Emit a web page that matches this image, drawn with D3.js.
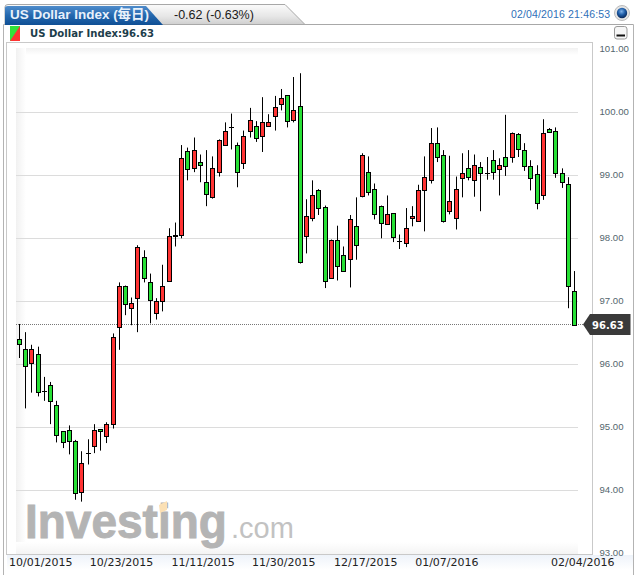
<!DOCTYPE html>
<html><head><meta charset="utf-8">
<script src="https://cdn.jsdelivr.net/npm/d3@7"></script>
<style>html,body{margin:0;padding:0;background:#fff}svg{display:block}</style>
</head><body><svg id="c" width="641" height="575"></svg>
<script>
const title = "US Dollar Index (每日)";
const changeText = "-0.62 (-0.63%)";
const stamp = "02/04/2016 21:46:53";
const legendText = "US Dollar Index:96.63";
const lastPrice = 96.63;
const yTicks = [93,94,95,96,97,98,99,100,101];
const xTickIndex = [0,16,29,42,55,68,89];
const xTickLabels = ["10/01/2015","10/23/2015","11/11/2015","11/30/2015","12/17/2015","01/07/2016","02/04/2016"];
const opens = [96.40,96.25,96.02,96.17,95.57,95.67,95.35,94.94,94.95,94.78,
93.97,94.59,94.71,94.97,94.86,95.05,96.59,97.24,96.89,97.05,
97.70,97.30,96.81,97.00,97.33,98.03,98.06,99.38,99.11,99.21,
98.90,98.65,99.06,99.48,99.76,99.48,99.19,99.70,99.79,99.62,
99.79,99.94,100.13,100.27,99.87,100.10,98.03,98.33,98.76,98.49,
97.37,97.98,97.73,97.67,98.19,98.67,99.06,98.79,98.51,98.22,
98.40,97.96,97.92,98.32,98.27,98.76,98.92,99.52,99.33,98.43,
98.33,98.95,99.11,98.92,99.13,99.03,99.25,99.10,99.29,99.29,
99.65,99.40,99.14,99.02,98.68,99.73,99.71,99.03,98.86,97.17];
const closes = [96.33,95.97,96.24,95.56,95.57,95.41,94.87,94.76,94.78,93.95,
94.43,94.59,94.95,94.94,95.06,96.44,97.24,96.95,96.98,97.86,
97.37,97.02,97.00,97.24,98.03,98.06,99.27,99.10,99.40,99.17,
98.71,99.11,99.56,99.71,99.76,99.06,99.63,99.87,99.60,99.84,
99.84,100.08,100.22,99.86,100.03,97.63,98.35,98.68,98.48,97.33,
97.97,97.56,97.48,98.30,97.89,99.33,98.73,98.38,98.24,98.38,
98.02,97.96,98.17,98.35,98.76,98.98,99.51,99.29,98.27,98.60,
98.79,99.03,98.98,99.17,99.03,99.03,99.05,99.17,99.14,99.67,
99.41,99.14,98.95,98.56,99.67,99.68,99.03,98.89,97.25,96.63];
const highs = [96.64,96.51,96.31,96.28,95.80,95.72,95.42,94.94,95.03,94.80,
94.62,94.81,95.05,94.97,95.08,96.49,97.30,97.25,97.06,97.89,
97.81,97.44,97.05,97.58,98.16,98.25,99.48,99.44,99.60,99.33,
99.40,99.30,99.57,99.84,99.98,99.52,99.71,100.07,99.86,100.24,
99.97,100.26,100.37,100.27,100.56,100.62,98.62,98.92,98.78,98.52,
97.98,98.20,97.87,98.37,98.65,99.35,99.30,98.87,98.52,98.68,
98.40,98.06,98.48,98.51,98.85,99.30,99.75,99.76,99.40,99.31,
98.98,99.35,99.40,99.33,99.21,99.29,99.40,99.27,99.96,99.68,
99.67,99.51,99.24,99.16,99.89,99.75,99.76,99.11,98.97,97.48];
const lows = [96.10,95.30,95.55,95.49,95.42,95.05,94.76,94.67,94.57,93.85,
93.82,94.41,94.59,94.63,94.75,94.98,96.23,96.78,96.62,96.51,
97.30,96.65,96.71,96.84,97.31,97.87,98.00,98.92,99.05,98.89,
98.51,98.63,98.98,99.47,99.41,98.81,99.10,99.60,99.53,99.37,
99.78,99.71,100.03,99.76,99.84,97.60,97.76,98.27,98.37,97.21,
97.37,97.33,97.48,97.22,97.66,98.65,98.68,98.30,98.00,98.22,
97.94,97.83,97.86,98.19,98.26,98.11,98.87,99.21,98.25,98.38,
98.14,98.65,98.92,98.66,98.43,98.93,98.93,98.68,98.99,99.20,
99.29,99.07,98.76,98.46,98.61,99.68,98.96,98.80,96.89,96.61];

const svg = d3.select("#c");
const defs = svg.append("defs");
function grad(id, stops, vertical=true){
  const g = defs.append("linearGradient").attr("id",id).attr("x1",0).attr("y1",0)
    .attr("x2",vertical?0:1).attr("y2",vertical?1:0);
  stops.forEach(s=>g.append("stop").attr("offset",s[0]).attr("stop-color",s[1]));
}
grad("tabBlue",[[0,"#4f8ccb"],[0.5,"#2468ae"],[1,"#0f4f95"]]);
grad("tabGray",[[0,"#fbfbfb"],[0.6,"#e6e6e6"],[1,"#cfcfcf"]]);
grad("axisBand",[[0,"#eef3fa"],[1,"#ffffff"]]);
grad("shadeL",[[0,"#f1f1f1"],[1,"#ffffff"]],false);
grad("shadeT",[[0,"#f2f2f2"],[1,"#ffffff"]]);
grad("shadeB",[[0,"#ffffff"],[1,"#f4f4f4"]]);
const ball = defs.append("radialGradient").attr("id","ball").attr("cx",0.45).attr("cy",0.35).attr("r",0.6);
ball.append("stop").attr("offset",0).attr("stop-color","#7fb2e8");
ball.append("stop").attr("offset",0.55).attr("stop-color","#1f5ea8");
ball.append("stop").attr("offset",1).attr("stop-color","#0c2f63");

// frame
svg.append("path").attr("d","M3.5,575 V24.5 H633.5 V575").attr("fill","none").attr("stroke","#b3b3b3");
svg.append("rect").attr("x",4).attr("y",25).attr("width",629).attr("height",550).attr("fill","#fff");
// tabs
svg.append("path").attr("d","M5,24.5 V7 Q5,4.5 8,4.5 H285 L305,24.5 Z").attr("fill","url(#tabGray)").attr("stroke","#a8a8a8");
svg.append("path").attr("d","M5,25 V8 Q5,6 8,6 H146 L163,25 Z").attr("fill","url(#tabBlue)");
svg.append("line").attr("x1",305).attr("x2",633).attr("y1",24.5).attr("y2",24.5).attr("stroke","#a8a8a8");
svg.append("text").text(title).attr("x",10).attr("y",19).attr("fill","#e8f1fb")
  .attr("font-family","'Liberation Sans','Noto Sans CJK SC',sans-serif").attr("font-weight","bold").attr("font-size",13.5)
  .attr("textLength",139).attr("lengthAdjust","spacingAndGlyphs");
svg.append("text").text(changeText).attr("x",174).attr("y",19).attr("fill","#1a1a1a")
  .attr("font-family","'Liberation Sans',sans-serif").attr("font-size",12.5);
svg.append("text").text(stamp).attr("x",511).attr("y",18).attr("fill","#2f70b8")
  .attr("font-family","'Liberation Sans',sans-serif").attr("font-size",10.5).attr("letter-spacing",0.15);
svg.append("circle").attr("cx",622).attr("cy",13).attr("r",7.5).attr("fill","#e4e4e4").attr("stroke","#bbb");
svg.append("circle").attr("cx",622).attr("cy",13).attr("r",5.2).attr("fill","url(#ball)");

// legend
svg.append("rect").attr("x",10).attr("y",26).attr("width",10).attr("height",15).attr("fill","#33e23a");
svg.append("path").attr("d","M20,26 V41 H10 Z").attr("fill","#ff3333");
svg.append("text").text(legendText).attr("x",30).attr("y",37).attr("fill","#1d3d4a")
  .attr("font-family","'DejaVu Sans',sans-serif").attr("font-weight","bold").attr("font-size",10.1);
svg.append("rect").attr("x",614.5).attr("y",26.5).attr("width",12.5).attr("height",12.5).attr("rx",2.5).attr("fill","#f6f6f6").attr("stroke","#9a9a9a");
svg.append("rect").attr("x",616.5).attr("y",34.5).attr("width",8.5).attr("height",2).attr("fill","#111");

// plot box
const plotL=16, plotR=578, plotT=48, plotB=554;
svg.append("rect").attr("x",6.5).attr("y",42.5).attr("width",586).attr("height",512).attr("fill","#fff").attr("stroke","#c9c9c9");
svg.append("rect").attr("x",plotL).attr("y",plotT).attr("width",plotR-plotL).attr("height",7).attr("fill","url(#shadeT)");
svg.append("rect").attr("x",plotL).attr("y",plotT).attr("width",10).attr("height",plotB-plotT).attr("fill","url(#shadeL)");
svg.append("rect").attr("x",plotL).attr("y",plotB-12).attr("width",plotR-plotL).attr("height",12).attr("fill","url(#shadeB)");
svg.append("rect").attr("x",7).attr("y",555).attr("width",626).attr("height",15).attr("fill","url(#axisBand)");

const y = d3.scaleLinear().domain([93,101]).range([553.3,49.3]);
const x = d3.scaleLinear().domain([0,opens.length-1]).range([19.3,574.3]);
const px = i => Math.round(x(i)-0.3)+0.5;

// grid
const gridVals = yTicks.filter(v=>v>93&&v<101);
svg.append("g").selectAll("line").data(gridVals).join("line")
  .attr("x1",plotL).attr("x2",plotR)
  .attr("y1",d=>Math.floor(y(d))+0.5).attr("y2",d=>Math.floor(y(d))+0.5)
  .attr("stroke","#dcdcdc").attr("stroke-width",1);

// logo
const logo = svg.append("g");
logo.append("text").text("Investing").attr("transform","translate(25,538) scale(1,1.065)").attr("fill","#b4b4b4")
  .attr("stroke","#b4b4b4").attr("stroke-width",0.9)
  .attr("font-family","'Liberation Sans',sans-serif").attr("font-weight","bold").attr("font-size",46);
logo.append("path").attr("d","M159,505 L167,501 V510 L160,513 Z").attr("fill","#fbe0b4");
logo.append("text").text(".com").attr("x",231).attr("y",538).attr("fill","#c2c2c2")
  .attr("font-family","'Liberation Sans',sans-serif").attr("font-size",29);

// y axis
const yAxis = d3.axisRight(y).tickValues(yTicks).tickFormat(d3.format(".2f")).tickSize(0).tickPadding(0);
const gy = svg.append("g").attr("transform","translate(599.5,-1)").call(yAxis);
gy.select(".domain").remove();
gy.selectAll("text").attr("fill","#54666e").attr("font-family","'Liberation Sans',sans-serif").attr("font-size",9.6);

// x axis
const xAxis = d3.axisBottom(x).tickValues(xTickIndex).tickFormat((d,i)=>xTickLabels[i]).tickSize(0).tickPadding(0);
const gx = svg.append("g").attr("transform","translate(0,558.5)").call(xAxis);
gx.select(".domain").remove();
const labelShift = [21,2,2.5,2,3,3,8];
gx.selectAll("text").attr("dx",(d,i)=>labelShift[i]).attr("fill","#222")
  .attr("font-family","'DejaVu Sans',sans-serif").attr("font-size",11);

// last price dotted line
svg.append("line").attr("x1",plotL).attr("x2",584)
  .attr("y1",Math.floor(y(lastPrice))+0.5).attr("y2",Math.floor(y(lastPrice))+0.5)
  .attr("stroke","#777").attr("stroke-dasharray","1,1");

// candles
const data = opens.map((o,i)=>({i,o,c:closes[i],h:highs[i],l:lows[i]}));
const g = svg.append("g");
g.selectAll("line.w").data(data).join("line").attr("class","w")
  .attr("x1",d=>px(d.i)).attr("x2",d=>px(d.i))
  .attr("y1",d=>y(d.h)).attr("y2",d=>y(d.l)).attr("stroke","#000").attr("stroke-width",1);
g.selectAll("rect.b").data(data.filter(d=>d.o!==d.c)).join("rect").attr("class","b")
  .attr("x",d=>px(d.i)-2).attr("width",4)
  .attr("y",d=>Math.round(y(Math.max(d.o,d.c)))+0.5)
  .attr("height",d=>Math.max(1,Math.round(y(Math.min(d.o,d.c)))-Math.round(y(Math.max(d.o,d.c)))))
  .attr("fill",d=>d.c>d.o?"#ff3333":"#27e035").attr("stroke","#000").attr("stroke-width",1);
g.selectAll("line.d").data(data.filter(d=>d.o===d.c)).join("line").attr("class","d")
  .attr("x1",d=>px(d.i)-2.5).attr("x2",d=>px(d.i)+2.5)
  .attr("y1",d=>Math.round(y(d.o))+0.5).attr("y2",d=>Math.round(y(d.o))+0.5)
  .attr("stroke","#000");

// price tag
const ty = y(lastPrice);
svg.append("path").attr("d",`M583,${ty} L590,${ty-10.5} H630.5 V${ty+10.5} H590 Z`).attr("fill","#3a3a3a");
svg.append("text").text(d3.format(".2f")(lastPrice)).attr("x",592).attr("y",ty+4).attr("fill","#fff")
  .attr("font-family","'DejaVu Sans',sans-serif").attr("font-weight","bold").attr("font-size",10);
</script></body></html>
